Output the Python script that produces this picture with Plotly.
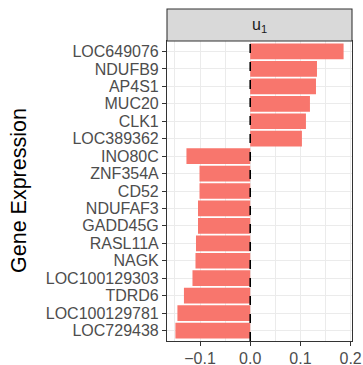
import plotly.graph_objects as go

genes = ["LOC649076", "NDUFB9", "AP4S1", "MUC20", "CLK1", "LOC389362",
         "INO80C", "ZNF354A", "CD52", "NDUFAF3", "GADD45G", "RASL11A",
         "NAGK", "LOC100129303", "TDRD6", "LOC100129781", "LOC729438"]
values = [0.186, 0.133, 0.131, 0.119, 0.111, 0.103,
          -0.127, -0.101, -0.101, -0.104, -0.104, -0.108,
          -0.109, -0.115, -0.132, -0.145, -0.149]
x_ticks = [-0.1, 0.0, 0.1, 0.2]
x_tick_labels = ["\u22120.1", "0.0", "0.1", "0.2"]
strip_label = "u<sub>1</sub>"
y_title = "Gene Expression"

FONT = "Liberation Sans"
W, H = 363, 365
ml, mr, mt, mb = 167, 11, 41, 24
plot_h = H - mt - mb
plot_w = W - ml - mr

lo, hi = min(values), max(values)
pad = 0.05 * (hi - lo)

fig = go.Figure(go.Bar(
    x=values, y=genes, orientation="h", width=0.9,
    marker=dict(color="#F8766D", line=dict(width=0)),
    hoverinfo="x+y",
))

fig.update_layout(
    width=W, height=H,
    margin=dict(l=ml, r=mr, t=mt, b=mb, pad=0, autoexpand=False),
    paper_bgcolor="white", plot_bgcolor="white",
    showlegend=False,
    font=dict(family=FONT, size=16, color="#4D4D4D"),
    xaxis=dict(
        range=[lo - pad, hi + pad], automargin=False,
        tickmode="array", tickvals=x_ticks, ticktext=x_tick_labels,
        showgrid=True, gridcolor="#EBEBEB", gridwidth=1.07,
        minor=dict(dtick=0.05, tick0=0, showgrid=True, gridcolor="#EBEBEB", gridwidth=0.55, ticks=""),
        zeroline=False,
        showline=True, mirror=True, linecolor="#333333", linewidth=1.07,
        ticks="outside", ticklen=4, tickcolor="#333333", tickwidth=1.07,
        ticklabelstandoff=-1,
        tickfont=dict(family=FONT, size=16, color="#4D4D4D"),
    ),
    yaxis=dict(
        type="category", categoryorder="array", categoryarray=genes,
        tickmode="array", tickvals=genes, ticktext=genes, automargin=False,
        range=[len(genes) - 0.4, -0.6],
        showgrid=True, gridcolor="#EBEBEB", gridwidth=1.07,
        zeroline=False,
        showline=True, mirror=True, linecolor="#333333", linewidth=1.07,
        ticks="outside", ticklen=4, tickcolor="#333333", tickwidth=1.07,
        tickfont=dict(family=FONT, size=16, color="#4D4D4D"),
    ),
)

# dashed vertical line at zero
fig.add_shape(type="line", xref="x", yref="paper", x0=0, x1=0, y0=0, y1=1,
              line=dict(color="black", width=1.6, dash="dash"), layer="above")

# facet strip
strip_h = 32 / plot_h
fig.add_shape(type="rect", xref="paper", yref="paper", x0=0, x1=1, y0=1, y1=1 + strip_h,
              fillcolor="#D9D9D9", line=dict(color="#333333", width=1.07), layer="above")
fig.add_annotation(text=strip_label, xref="paper", yref="paper", x=0.5, y=1 + strip_h / 2,
                   showarrow=False, xanchor="center", yanchor="middle",
                   font=dict(family=FONT, size=16, color="#1A1A1A"))

# y axis title
fig.add_annotation(text=y_title, xref="paper", yref="paper",
                   x=(19 - ml) / plot_w, y=0.5, textangle=-90,
                   showarrow=False, xanchor="center", yanchor="middle",
                   font=dict(family=FONT, size=21.5, color="black"))

fig.write_html("out.html")
